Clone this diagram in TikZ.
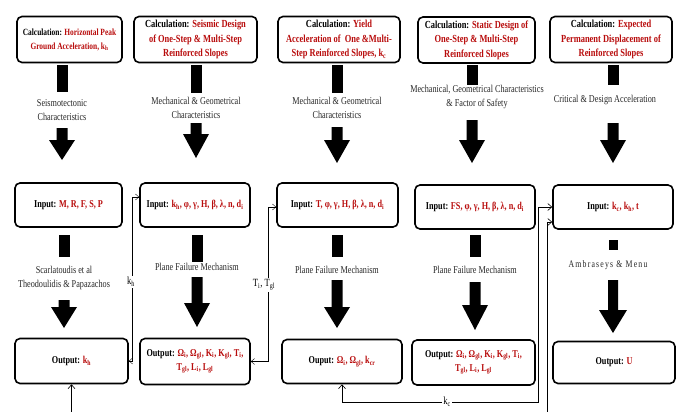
\documentclass[tikz,border=0pt]{standalone}
\usepackage{fontspec}
\setmainfont{Liberation Serif}[FakeStretch=0.78]
\usepackage{tikz}
\usetikzlibrary{arrows.meta,calc}

\definecolor{valred}{HTML}{B80C0C}
\newcommand{\val}[1]{\textcolor{valred}{#1}}
\newcommand{\sbs}[1]{\textsubscript{#1}}

\begin{document}
\begin{tikzpicture}[x=1pt,y=-1pt,
            % Style for the boxes
            calcbox/.style={draw, line width=1.6pt, rounded corners=5pt, align=center,
                            font=\bfseries\fontsize{10.5}{14}\selectfont, inner sep=1pt},
            titlebox/.style={calcbox, font=\bfseries\fontsize{10.8}{14.5}\selectfont},
            % Style for the notes between the boxes
            note/.style={align=center, font=\fontsize{10.5}{14}\selectfont, text=black!85},
            % Style for the links
            link/.style={{Straight Barb[length=3.5pt,width=6pt]}-{Straight Barb[length=3.5pt,width=6pt]}, thin},
            linkbold/.style={{Straight Barb[length=4pt,width=7pt]}-{Straight Barb[length=4pt,width=7pt]}, semithick},
            tagbox/.style={fill=white, inner sep=1.5pt, font=\fontsize{11}{12}\selectfont}
        ]
            \useasboundingbox (0,0) rectangle (680,412);

            % --- 1. CALCULATION BOXES ---
            \node[calcbox, font=\bfseries\fontsize{9.5}{14}\selectfont, minimum width=105, minimum height=46] (c1) at (69.5,39.5)
                {Calculation: \val{Horizontal Peak}\\\val{Ground Acceleration, k\sbs{h}}};
            \node[titlebox, minimum width=123, minimum height=46] (c2) at (195.5,39.5)
                {Calculation: \val{Seismic Design}\\\val{of One-Step \& Multi-Step}\\\val{Reinforced Slopes}};
            \node[titlebox, minimum width=122, minimum height=46] (c3) at (339,39.5)
                {Calculation: \val{Yield}\\\val{Acceleration of \ One \&Multi-}\\\val{Step Reinforced Slopes, k\sbs{c}}};
            \node[titlebox, minimum width=117, minimum height=46] (c4) at (476.5,40)
                {Calculation: \val{Static Design of}\\\val{One-Step \& Multi-Step}\\\val{Reinforced Slopes}};
            \node[titlebox, minimum width=122, minimum height=46] (c5) at (611,39.5)
                {Calculation: \val{Expected}\\\val{Permanent Displacement of}\\\val{Reinforced Slopes}};

            % --- 2. INPUT BOXES ---
            \node[calcbox, minimum width=107, minimum height=44] (i1) at (68.5,205)
                {Input: \val{M, R, F, S, P}};
            \node[calcbox, minimum width=110, minimum height=44] (i2) at (195,205)
                {Input: \val{k\sbs{h}, φ, γ, H, β, λ, n, d\sbs{i}}};
            \node[calcbox, minimum width=121, minimum height=44] (i3) at (337.5,205)
                {Input: \val{T, φ, γ, H, β, λ, n, d\sbs{i}}};
            \node[calcbox, minimum width=120, minimum height=44] (i4) at (475,207)
                {Input: \val{FS, φ, γ, H, β, λ, n, d\sbs{i}}};
            \node[calcbox, minimum width=120, minimum height=44] (i5) at (613,207)
                {Input: \val{k\sbs{c}, k\sbs{h}, t}};

            % --- 3. OUTPUT BOXES ---
            \node[calcbox, minimum width=113, minimum height=45] (o1) at (71.5,361)
                {Output: \val{k\sbs{h}}};
            \node[calcbox, minimum width=110, minimum height=46] (o2) at (195,361.5)
                {Output: \val{Ω\sbs{i}, Ω\sbs{gl}, K\sbs{i}, K\sbs{gl}, T\sbs{i},}\\\val{T\sbs{gl}, L\sbs{i}, L\sbs{gl}}};
            \node[calcbox, minimum width=120, minimum height=44] (o3) at (342,361.5)
                {Ouput: \val{Ω\sbs{i}, Ω\sbs{gl}, k\sbs{cr}}};
            \node[calcbox, minimum width=123, minimum height=45] (o4) at (473.5,362.5)
                {Output: \val{Ω\sbs{i}, Ω\sbs{gl}, K\sbs{i}, K\sbs{gl}, T\sbs{i},}\\\val{T\sbs{gl}, L\sbs{i}, L\sbs{gl}}};
            \node[calcbox, minimum width=122, minimum height=42] (o5) at (614,362.5)
                {Output: \val{U}};

            % --- 4. NOTES ---
            \node[note] (n1) at (62,110) {Seismotectonic\\Characteristics};
            \node[note] (n2) at (196,108) {Mechanical \& Geometrical\\Characteristics};
            \node[note] (n3) at (337,108) {Mechanical \& Geometrical\\Characteristics};
            \node[note] (n4) at (477,97) {Mechanical, Geometrical Characteristics\\\& Factor of Safety};
            \node[note] (n5) at (605,100) {Critical \& Design Acceleration};
            \node[note] (m1) at (64,278) {Scarlatoudis et al\\Theodoulidis \& Papazachos};
            \node[note] (m2) at (197,267) {Plane Failure Mechanism};
            \node[note] (m3) at (337,270) {Plane Failure Mechanism};
            \node[note] (m4) at (475,270) {Plane Failure Mechanism};
            \node[note, font=\addfontfeature{LetterSpace=12}\fontsize{10}{14}\selectfont] (m5) at (608,265) {Ambraseys \& Menu};

            % --- 5. BLOCK ARROWS (bar, then arrow) ---
            % x / bar top / bar bottom / shaft top / head / tip
            \foreach \cx/\ra/\rb/\sa/\sb/\tip in {62/65/92/128/140/160, 196/65/93/123/134/158,
                    337/65/93/127/140/163, 472/65/85/120/140/163, 613/65/85/123/140/163,
                    64/235/257/300/307/328, 197/235/262/277/303/327, 337/235/257/280/307/328,
                    475/235/257/282/305/330} {
                \fill (\cx-5.5,\ra) rectangle (\cx+5.5,\rb);
                \fill (\cx-5.5,\sa) -- (\cx+5.5,\sa) -- (\cx+5.5,\sb) -- (\cx+13,\sb)
                    -- (\cx,\tip) -- (\cx-13,\sb) -- (\cx-5.5,\sb) -- cycle;
            }
            % small bar of the last column
            \fill (608.5,240) rectangle (617.5,250);
            \fill (608,280) -- (618,280) -- (618,310) -- (627,310) -- (613,333)
                -- (599,310) -- (608,310) -- cycle;

            % --- 6. LINKS ---
            % k_h : output 1 -> input 2
            \draw[link] (o1.east) -- ++(3,0) coordinate (khup) |- ($(i2.west)+(0,-8)$);
            \node[tagbox] (khtag) at (131,282) {k\sbs{h}};

            % T_i, T_gl : output 2 -> input 3
            \draw[link] (o2.east) -- ++(17,0) |- ($(i3.west)+(0,2)$);
            \node[tagbox] (ttag) at (264,285) {T\sbs{i}, T\sbs{gl}};

            % k_c : output 3 -> input 5
            \coordinate (kcturn) at (538,402);
            \draw[linkbold] (o3.south) |- (kcturn) |- ($(i5.west)+(0,0)$);
            \node[tagbox] (kctag) at (447,402) {k\sbs{c}};

            % k_h : output 1 -> input 5 (runs below the page)
            \coordinate (khturn) at (547,418);
            \draw[linkbold] (o1.south) |- (khturn) |- ($(i5.west)+(0,15)$);
            \node[tagbox] (khtag2) at (310,418) {k\sbs{h}};

        \end{tikzpicture}
\end{document}
